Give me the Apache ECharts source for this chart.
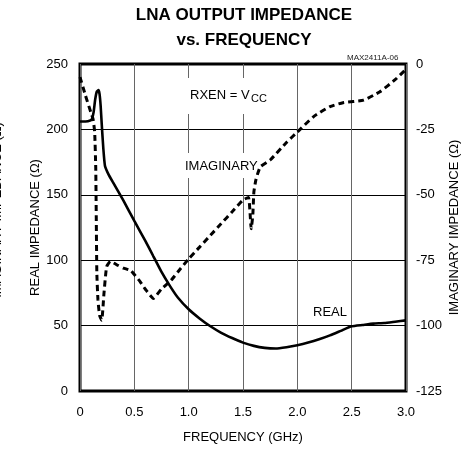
<!DOCTYPE html>
<html><head><meta charset="utf-8">
<script src="https://cdn.jsdelivr.net/npm/echarts@6/dist/echarts.min.js"></script>
<style>html,body{margin:0;padding:0;background:#fff}#c{width:472px;height:451px}</style>
</head><body><div id="c"></div>
<script>
// Frequency ticks (GHz)
const xTicks = [0, 0.5, 1.0, 1.5, 2.0, 2.5, 3.0];
const realTicks = [0, 50, 100, 150, 200, 250];
const imagTicks = [-125, -100, -75, -50, -25, 0];

// REAL impedance (Ohm), solid
const realFreq = [0, 0.05, 0.1, 0.11, 0.125, 0.14, 0.155, 0.17, 0.18, 0.19, 0.2, 0.215, 0.23, 0.26, 0.3, 0.4, 0.5, 0.6, 0.675, 0.75, 0.83, 0.9, 1.0, 1.1, 1.2, 1.3, 1.4, 1.5, 1.6, 1.7, 1.8, 1.9, 2.0, 2.1, 2.2, 2.3, 2.4, 2.5, 2.6, 2.7, 2.8, 2.9, 3.0];
const realVals = [206, 206, 207, 208, 213, 223, 229, 230, 227, 218, 204, 185, 172, 166, 160, 145.5, 130, 115, 103, 91, 80, 71.5, 62.5, 55.5, 49.5, 44.5, 40.5, 37, 34.5, 33, 32.5, 33.5, 35, 37, 39.5, 42.5, 46, 49.5, 50.5, 51.5, 52, 53, 54];

// IMAGINARY impedance (Ohm), dashed
const imagFreq = [0, 0.05, 0.1, 0.12, 0.135, 0.145, 0.15, 0.155, 0.165, 0.18, 0.2, 0.22, 0.245, 0.28, 0.35, 0.4, 0.47, 0.5, 0.55, 0.6, 0.675, 0.75, 0.84, 0.9, 1.0, 1.1, 1.2, 1.3, 1.4, 1.5, 1.55, 1.565, 1.575, 1.59, 1.6, 1.62, 1.66, 1.75, 1.9, 2.0, 2.15, 2.3, 2.42, 2.61, 2.76, 2.9, 3.0];
const imagVals = [-5, -12, -18.5, -21, -26, -40, -60, -80, -90, -96, -98, -88, -77.5, -75.5, -77, -78, -79, -80.5, -83, -86, -89.6, -86, -82.6, -79.5, -74.5, -70, -65.5, -61, -56.5, -52, -51, -57, -63, -58, -49, -44, -39.3, -36.7, -30, -26, -20.1, -16.3, -14.8, -13.8, -10.6, -6, -2];

const FONT = '"Liberation Sans", Arial, Helvetica, sans-serif';
const realData = realFreq.map((f, i) => [f, realVals[i]]);
const imagData = imagFreq.map((f, i) => [f, imagVals[i]]);

const chart = echarts.init(document.getElementById('c'), null, {renderer: 'canvas'});
chart.setOption({
  animation: false,
  backgroundColor: '#fff',
  title: {
    text: 'LNA OUTPUT IMPEDANCE\nvs. FREQUENCY',
    left: 239, top: -2, textAlign: 'center',
    textStyle: {fontFamily: FONT, fontSize: 17, fontWeight: 'bold', color: '#000', lineHeight: 25}
  },
  grid: {left: 80, right: 66, top: 64, bottom: 60, show: true, borderColor: '#000', borderWidth: 3, backgroundColor: 'transparent'},
  xAxis: {
    type: 'value', min: xTicks[0], max: xTicks[xTicks.length - 1], interval: 0.5,
    name: 'FREQUENCY (GHz)', nameLocation: 'middle', nameGap: 40, nameMoveOverlap: false,
    nameTextStyle: {fontFamily: FONT, fontSize: 13, color: '#000'},
    axisLine: {show: false}, axisTick: {show: false},
    axisLabel: {fontFamily: FONT, fontSize: 13, color: '#000', margin: 15,
      formatter: v => v === 0 ? '0' : v.toFixed(1)},
    splitLine: {show: true, lineStyle: {color: '#666', width: 1}}
  },
  yAxis: [{
    type: 'value', min: realTicks[0], max: realTicks[realTicks.length - 1], interval: 50,
    name: 'REAL IMPEDANCE (Ω)', nameLocation: 'middle', nameGap: 38, nameMoveOverlap: false,
    nameTextStyle: {fontFamily: FONT, fontSize: 13, color: '#000'},
    axisLine: {show: false}, axisTick: {show: false},
    axisLabel: {fontFamily: FONT, fontSize: 13, color: '#000', margin: 12, padding: [6, 0, 0, 0]},
    splitLine: {show: true, lineStyle: {color: '#000', width: 1}}
  }, {
    type: 'value', position: 'right', min: imagTicks[0], max: imagTicks[imagTicks.length - 1], interval: 25,
    name: 'IMAGINARY IMPEDANCE (Ω)', nameLocation: 'middle', nameGap: 42, nameMoveOverlap: false,
    nameTextStyle: {fontFamily: FONT, fontSize: 13, color: '#000'},
    axisLine: {show: false}, axisTick: {show: false},
    axisLabel: {fontFamily: FONT, fontSize: 13, color: '#000', margin: 10, padding: [6, 0, 0, 0]},
    splitLine: {show: false}
  }],
  graphic: [
    {type: 'text', left: 347, top: 54, z: 5, style: {text: 'MAX2411A-06', font: '8px ' + FONT, fill: '#222'}},
    {type: 'rect', shape: {x: 185, y: 78, width: 90, height: 36}, z: 1, style: {fill: '#fff'}},
    {type: 'text', x: 190, y: 95, z: 5, style: {text: 'RXEN = V', font: '13px ' + FONT, fill: '#000', verticalAlign: 'middle'}},
    {type: 'text', x: 251, y: 99, z: 5, style: {text: 'CC', font: '11px ' + FONT, fill: '#000', verticalAlign: 'middle'}},
    {type: 'rect', shape: {x: 183, y: 153, width: 81, height: 25}, z: 1, style: {fill: '#fff'}},
    {type: 'text', x: 185, y: 166, z: 5, style: {text: 'IMAGINARY', font: '13px ' + FONT, fill: '#000', verticalAlign: 'middle'}},
    {type: 'text', x: 313, y: 312, z: 5, style: {text: 'REAL', font: '13px ' + FONT, fill: '#000', verticalAlign: 'middle'}},
    {type: 'text', x: -3, y: 210, rotation: Math.PI / 2, z: 5, style: {text: 'IMAGINARY IMPEDANCE (Ω)', font: '13px ' + FONT, fill: '#000', align: 'center', verticalAlign: 'middle'}}
  ],
  series: [{
    type: 'line', name: 'REAL', yAxisIndex: 0, data: realData, showSymbol: false, smooth: 0.15,
    lineStyle: {color: '#000', width: 2.6}, z: 3
  }, {
    type: 'line', name: 'IMAGINARY', yAxisIndex: 1, data: imagData, showSymbol: false, smooth: 0.15,
    lineStyle: {color: '#000', width: 3, type: [6, 4]}, z: 3
  }]
});
</script></body></html>
